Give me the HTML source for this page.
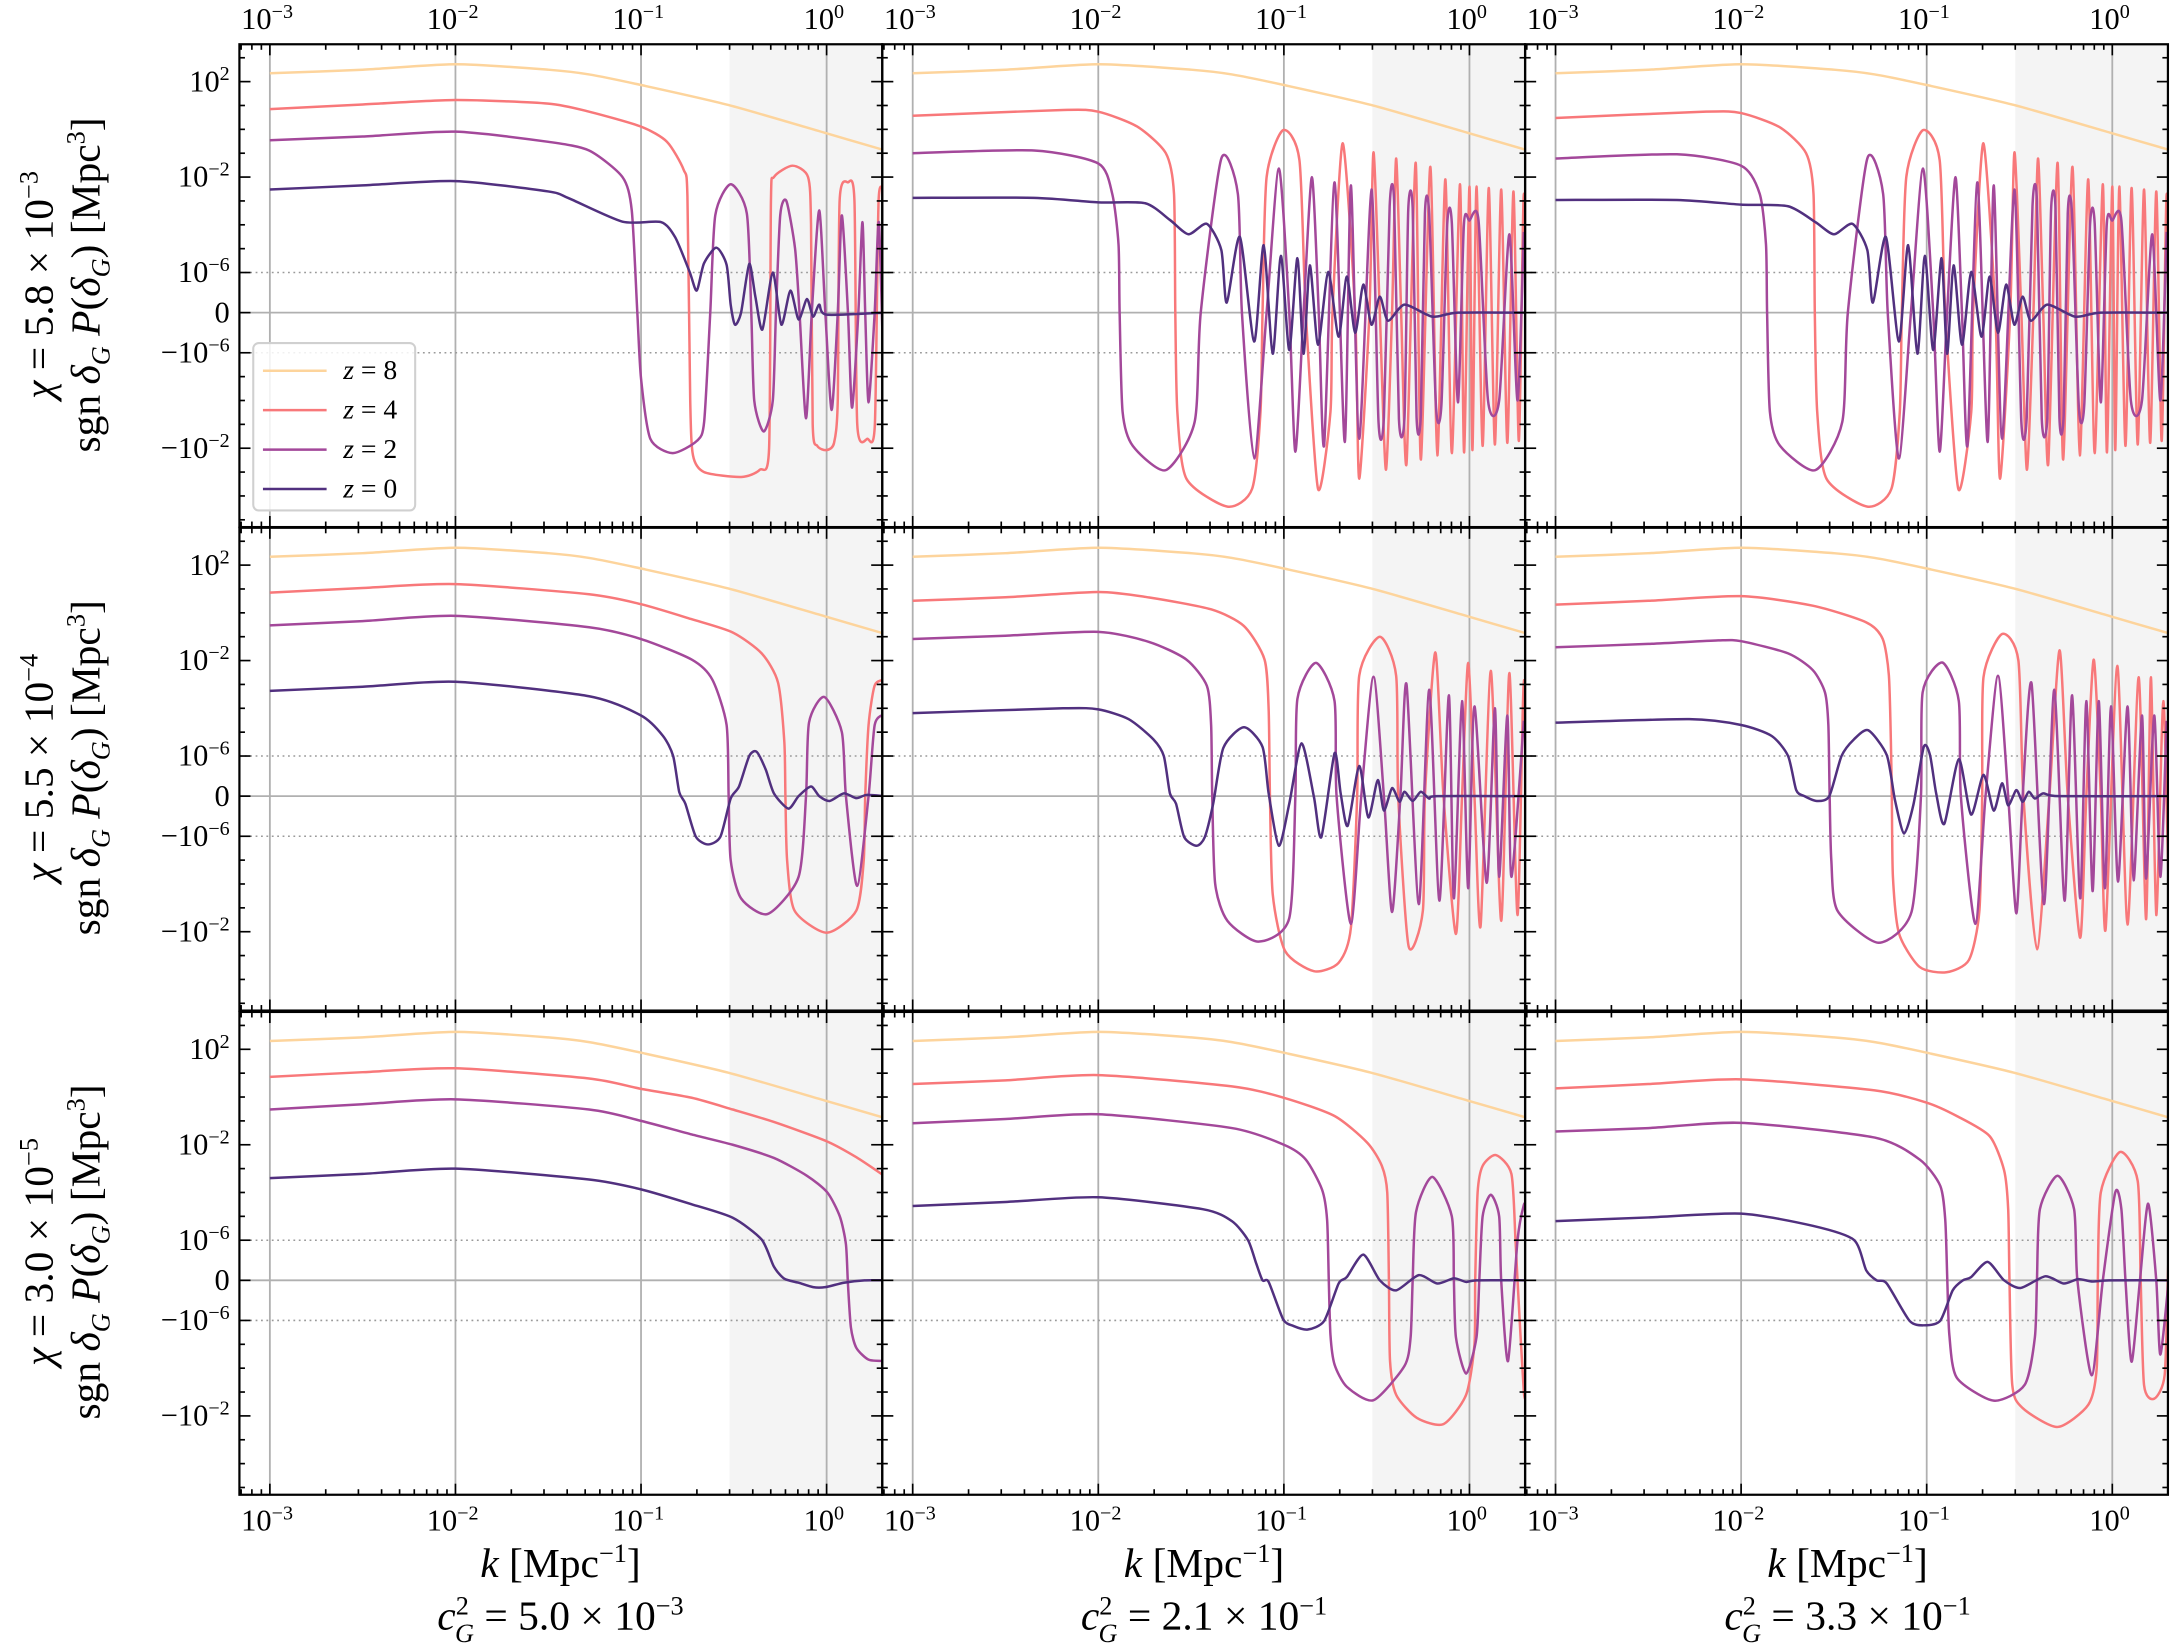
<!DOCTYPE html>
<html><head><meta charset="utf-8"><title>sgn P(delta_G) panels</title>
<style>
html,body{margin:0;padding:0;background:#fff;}
svg{display:block;}
text{font-family:"Liberation Serif","DejaVu Serif",serif;fill:#000;}
</style></head>
<body>
<svg id="fig" xmlns="http://www.w3.org/2000/svg" width="2170" height="1649" viewBox="0 0 1568 1192" preserveAspectRatio="none">
<rect x="0" y="0" width="1568" height="1192" fill="#fff"/>
<g id="panels"></g>
<g id="labels">
  <text x="405" y="1140" font-size="30" text-anchor="middle"><tspan font-style="italic">k</tspan> [Mpc<tspan dy="-11" font-size="19">−1</tspan><tspan dy="11">]</tspan></text>
  <text x="870" y="1140" font-size="30" text-anchor="middle"><tspan font-style="italic">k</tspan> [Mpc<tspan dy="-11" font-size="19">−1</tspan><tspan dy="11">]</tspan></text>
  <text x="1335" y="1140" font-size="30" text-anchor="middle"><tspan font-style="italic">k</tspan> [Mpc<tspan dy="-11" font-size="19">−1</tspan><tspan dy="11">]</tspan></text>
  <text x="405" y="1178" font-size="30" text-anchor="middle"><tspan font-style="italic">c</tspan><tspan dy="-11" font-size="19">2</tspan><tspan dx="-10" dy="20" font-size="19" font-style="italic">G</tspan><tspan dy="-9"> = 5.0 × 10</tspan><tspan dy="-11" font-size="19">−3</tspan></text>
  <text x="870" y="1178" font-size="30" text-anchor="middle"><tspan font-style="italic">c</tspan><tspan dy="-11" font-size="19">2</tspan><tspan dx="-10" dy="20" font-size="19" font-style="italic">G</tspan><tspan dy="-9"> = 2.1 × 10</tspan><tspan dy="-11" font-size="19">−1</tspan></text>
  <text x="1335" y="1178" font-size="30" text-anchor="middle"><tspan font-style="italic">c</tspan><tspan dy="-11" font-size="19">2</tspan><tspan dx="-10" dy="20" font-size="19" font-style="italic">G</tspan><tspan dy="-9"> = 3.3 × 10</tspan><tspan dy="-11" font-size="19">−1</tspan></text>

  <text transform="translate(38,206) rotate(-90)" font-size="30" text-anchor="middle"><tspan font-style="italic">χ</tspan> = 5.8 × 10<tspan dy="-11" font-size="19">−3</tspan></text>
  <text transform="translate(72,206) rotate(-90)" font-size="30" text-anchor="middle">sgn <tspan font-style="italic">δ</tspan><tspan dy="7" font-size="19" font-style="italic">G</tspan><tspan dy="-7"> </tspan><tspan font-style="italic">P</tspan>(<tspan font-style="italic">δ</tspan><tspan dy="7" font-size="19" font-style="italic">G</tspan><tspan dy="-7">) [Mpc</tspan><tspan dy="-11" font-size="19">3</tspan><tspan dy="11">]</tspan></text>
  <text transform="translate(38,555) rotate(-90)" font-size="30" text-anchor="middle"><tspan font-style="italic">χ</tspan> = 5.5 × 10<tspan dy="-11" font-size="19">−4</tspan></text>
  <text transform="translate(72,555) rotate(-90)" font-size="30" text-anchor="middle">sgn <tspan font-style="italic">δ</tspan><tspan dy="7" font-size="19" font-style="italic">G</tspan><tspan dy="-7"> </tspan><tspan font-style="italic">P</tspan>(<tspan font-style="italic">δ</tspan><tspan dy="7" font-size="19" font-style="italic">G</tspan><tspan dy="-7">) [Mpc</tspan><tspan dy="-11" font-size="19">3</tspan><tspan dy="11">]</tspan></text>
  <text transform="translate(38,905) rotate(-90)" font-size="30" text-anchor="middle"><tspan font-style="italic">χ</tspan> = 3.0 × 10<tspan dy="-11" font-size="19">−5</tspan></text>
  <text transform="translate(72,905) rotate(-90)" font-size="30" text-anchor="middle">sgn <tspan font-style="italic">δ</tspan><tspan dy="7" font-size="19" font-style="italic">G</tspan><tspan dy="-7"> </tspan><tspan font-style="italic">P</tspan>(<tspan font-style="italic">δ</tspan><tspan dy="7" font-size="19" font-style="italic">G</tspan><tspan dy="-7">) [Mpc</tspan><tspan dy="-11" font-size="19">3</tspan><tspan dy="11">]</tspan></text>
</g>
</svg>
<script>
// ---------- data: [log10 k, sgn P] pairs ----------
const seriesNames = ["z = 8", "z = 4", "z = 2", "z = 0"];
const seriesColors = ["#fdd49c", "#f8787a", "#a3489a", "#51307f"];
const xTickLabels = ["−3", "−2", "−1", "0"];
const yTickValues = [1e2, 1e-2, 1e-6, 0, -1e-6, -1e-2];
const yTickLabels = ["10|2", "10|−2", "10|−6", "0", "−10|−6", "−10|−2"];
const shadeStartK = 0.3;

const z8 = [[-3,224],[-2.5,316],[-2,537],[-1.5,316],[-1.28,200],[-1,72],[-0.53,10.5],[0,0.68],[0.31,0.135]];

const r1c1_z4 = [[-3,7],[-2.5,11],[-2,17],[-1.5,12],[-1.28,5.5],[-1,1.3],[-0.86,0.3],[-0.77,0.02],[-0.75,1.6e-3],[-0.735,-1e-4],[-0.72,-0.02],[-0.66,-0.1],[-0.46,-0.16],[-0.36,-0.08],[-0.31,-0.01],[-0.30,1e-3],[-0.284,0.01],[-0.184,0.03],[-0.1,0.01],[-0.084,1e-4],[-0.075,-1e-3],[-0.05,-8e-3],[0,-0.012],[0.04,-6e-3],[0.06,-1e-4],[0.07,1e-3],[0.115,6e-3],[0.15,1e-3],[0.165,-1e-3],[0.22,-4e-3],[0.26,-1e-3],[0.28,1e-3],[0.31,2e-3]];
const r1c1_z2 = [[-3,0.35],[-2.5,0.5],[-2,0.8],[-1.5,0.3],[-1.28,0.13],[-1.1,0.01],[-1.05,4e-4],[-1.02,0],[-1.0,-1.2e-5],[-0.95,-4e-3],[-0.83,-0.016],[-0.7,-5e-3],[-0.66,-8e-4],[-0.627,0],[-0.6,2.5e-4],[-0.517,5e-3],[-0.43,3e-4],[-0.406,0],[-0.39,-1e-4],[-0.339,-2e-3],[-0.29,-1e-4],[-0.273,0],[-0.25,2.5e-4],[-0.217,1e-3],[-0.17,1e-5],[-0.146,0],[-0.111,-5.6e-4],[-0.08,0],[-0.04,4e-4],[-0.007,0],[0.027,-2.5e-4],[0.06,0],[0.082,2.5e-4],[0.115,0],[0.137,-2e-4],[0.171,0],[0.193,1.3e-4],[0.208,0],[0.226,-1.2e-4],[0.259,0],[0.282,1.2e-4],[0.31,-1e-4]];
const r1c1_z0 = [[-3,3e-3],[-2.5,4.5e-3],[-2,6.8e-3],[-1.5,2.5e-3],[-1.39,1.3e-3],[-1.1,1.35e-4],[-0.893,1.3e-4],[-0.816,3e-5],[-0.738,1.06e-6],[-0.70,5.5e-7],[-0.661,2.4e-6],[-0.594,1.1e-5],[-0.539,2.1e-6],[-0.517,2e-7],[-0.494,-3e-7],[-0.461,0],[-0.417,2.3e-6],[-0.384,4e-7],[-0.346,-4.2e-7],[-0.29,1e-6],[-0.244,-3e-7],[-0.195,5.5e-7],[-0.151,-1.7e-7],[-0.106,3.4e-7],[-0.073,-1e-7],[-0.04,2e-7],[0,-5e-8],[0.31,0]];

const r1c2_z4 = [[-3,3.7],[-2.19,6.5],[-2,5.5],[-1.79,1.3],[-1.636,0.1],[-1.592,2e-3],[-1.585,0],[-1.574,-3e-4],[-1.525,-0.19],[-1.304,-2.8],[-1.171,-0.5],[-1.126,-3e-4],[-1.115,0],[-1.093,0.01],[-1.004,0.93],[-0.916,0.05],[-0.882,0],[-0.816,-0.5],[-0.749,-3e-4],[-0.738,0],[-0.683,0.26],[-0.616,0],[-0.594,-0.19],[-0.539,0],[-0.517,0.11],[-0.483,0],[-0.45,-0.08],[-0.417,0],[-0.395,0.06],[-0.368,0],[-0.339,-0.044],[-0.29,0.04],[-0.262,-0.03],[-0.211,0.027],[-0.173,-0.02],[-0.13,8e-3],[-0.095,-0.016],[-0.051,5e-3],[-0.029,-0.015],[0.0,4e-3],[0.016,-0.012],[0.038,4e-3],[0.071,-8e-3],[0.104,3.5e-3],[0.137,-7e-3],[0.171,3e-3],[0.204,-6e-3],[0.237,2.5e-3],[0.266,-5e-3],[0.293,2e-3],[0.31,-4e-3]];
const r1c2_z2 = [[-3,0.1],[-2.346,0.13],[-2,0.037],[-1.925,2e-3],[-1.891,1.5e-5],[-1.885,0],[-1.869,-3e-4],[-1.814,-8e-3],[-1.636,-0.083],[-1.481,-8e-4],[-1.448,0],[-1.337,0.06],[-1.248,2e-3],[-1.226,0],[-1.16,-0.027],[-1.093,0],[-1.027,0.023],[-0.971,0],[-0.938,-0.014],[-0.894,0],[-0.849,0.01],[-0.812,0],[-0.783,-7.4e-3],[-0.727,6e-3],[-0.672,-5.5e-3],[-0.639,4.5e-3],[-0.594,-4e-3],[-0.528,3e-3],[-0.49,-8e-4],[-0.461,-5e-4],[-0.43,6e-4],[-0.406,1e-3],[-0.38,-6e-4],[-0.35,-5e-4],[-0.33,4e-4],[-0.306,5e-4],[-0.285,-5e-4],[-0.262,-4e-4],[-0.24,3e-4],[-0.217,3e-4],[-0.18,-2e-4],[-0.151,-1.5e-4],[-0.12,1e-4],[-0.095,1.2e-4],[-0.062,-1.2e-4],[-0.03,1e-4],[0.0,1.5e-4],[0.049,1.5e-4],[0.1,-1e-4],[0.16,-1e-4],[0.215,4e-5],[0.259,-1e-4],[0.293,5e-5]];
const r1c2_z0 = [[-3,1.35e-3],[-2.346,1.35e-3],[-2,8.7e-4],[-1.747,8e-4],[-1.614,1.6e-4],[-1.514,4e-5],[-1.415,1.1e-4],[-1.337,8.7e-6],[-1.308,2.5e-7],[-1.237,3.1e-5],[-1.16,-7.2e-7],[-1.109,1.4e-5],[-1.06,-1.1e-6],[-1.016,5e-6],[-0.971,-9.3e-7],[-0.927,4e-6],[-0.894,-1.1e-6],[-0.86,2e-6],[-0.816,-8e-7],[-0.761,1.06e-6],[-0.705,-6e-7],[-0.661,9e-7],[-0.616,-5e-7],[-0.572,7e-7],[-0.528,-3e-7],[-0.483,4e-7],[-0.439,-2e-7],[-0.35,2e-7],[-0.2,-1e-7],[-0.062,0],[0.31,0]];

const r1c3_z4 = [[-3,3],[-2.19,5.5],[-2,4.8],[-1.79,1.2],[-1.65,0.1],[-1.61,2e-3],[-1.603,0],[-1.59,-3e-4],[-1.54,-0.19],[-1.32,-2.8],[-1.19,-0.5],[-1.145,-3e-4],[-1.134,0],[-1.11,0.01],[-1.02,0.93],[-0.93,0.05],[-0.9,0],[-0.83,-0.5],[-0.76,-3e-4],[-0.75,0],[-0.695,0.26],[-0.63,0],[-0.605,-0.19],[-0.55,0],[-0.527,0.11],[-0.49,0],[-0.46,-0.08],[-0.425,0],[-0.4,0.06],[-0.372,0],[-0.345,-0.044],[-0.295,0.04],[-0.265,-0.03],[-0.215,0.027],[-0.175,-0.02],[-0.13,8e-3],[-0.095,-0.016],[-0.051,5e-3],[-0.029,-0.015],[0.0,4e-3],[0.016,-0.012],[0.038,4e-3],[0.071,-8e-3],[0.104,3.5e-3],[0.137,-7e-3],[0.171,3e-3],[0.204,-6e-3],[0.237,2.5e-3],[0.266,-5e-3],[0.293,2e-3],[0.31,-4e-3]];
const r1c3_z2 = [[-3,0.06],[-2.346,0.09],[-2,0.03],[-1.9,2e-3],[-1.866,1.5e-5],[-1.86,0],[-1.845,-3e-4],[-1.79,-8e-3],[-1.6,-0.083],[-1.455,-8e-4],[-1.425,0],[-1.32,0.06],[-1.235,2e-3],[-1.21,0],[-1.15,-0.027],[-1.085,0],[-1.02,0.023],[-0.965,0],[-0.93,-0.014],[-0.89,0],[-0.845,0.01],[-0.81,0],[-0.78,-7.4e-3],[-0.727,6e-3],[-0.672,-5.5e-3],[-0.639,4.5e-3],[-0.594,-4e-3],[-0.528,3e-3],[-0.49,-8e-4],[-0.461,-5e-4],[-0.43,6e-4],[-0.406,1e-3],[-0.38,-6e-4],[-0.35,-5e-4],[-0.33,4e-4],[-0.306,5e-4],[-0.285,-5e-4],[-0.262,-4e-4],[-0.24,3e-4],[-0.217,3e-4],[-0.18,-2e-4],[-0.151,-1.5e-4],[-0.12,1e-4],[-0.095,1.2e-4],[-0.062,-1.2e-4],[-0.03,1e-4],[0.0,1.5e-4],[0.049,1.5e-4],[0.1,-1e-4],[0.16,-1e-4],[0.215,4e-5],[0.259,-1e-4],[0.293,5e-5]];
const r1c3_z0 = [[-3,1.1e-3],[-2.346,1.1e-3],[-2,7e-4],[-1.747,6e-4],[-1.6,1.3e-4],[-1.5,4e-5],[-1.4,1.1e-4],[-1.32,8.7e-6],[-1.29,2.5e-7],[-1.22,3.1e-5],[-1.15,-7.2e-7],[-1.1,1.4e-5],[-1.05,-1.1e-6],[-1.01,5e-6],[-0.965,-9.3e-7],[-0.92,4e-6],[-0.89,-1.1e-6],[-0.855,2e-6],[-0.81,-8e-7],[-0.76,1.06e-6],[-0.705,-6e-7],[-0.661,9e-7],[-0.616,-5e-7],[-0.572,7e-7],[-0.528,-3e-7],[-0.483,4e-7],[-0.439,-2e-7],[-0.35,2e-7],[-0.2,-1e-7],[-0.062,0],[0.31,0]];

const r2c1_z4 = [[-3,7],[-2.5,11],[-2,16],[-1.28,6],[-1,2.3],[-0.727,0.54],[-0.506,0.15],[-0.35,0.02],[-0.262,1.2e-3],[-0.228,4e-6],[-0.222,0],[-0.213,-1e-5],[-0.173,-1.3e-3],[0,-0.011],[0.16,-1.3e-3],[0.2,-1e-5],[0.208,0],[0.226,2e-5],[0.259,9e-4],[0.31,1.6e-3]];
const r2c1_z2 = [[-3,0.3],[-2.5,0.45],[-2,0.75],[-1.28,0.25],[-1,0.08],[-0.727,0.011],[-0.616,1.6e-3],[-0.539,2e-5],[-0.528,0],[-0.517,-1e-5],[-0.461,-4e-4],[-0.317,-1.8e-3],[-0.151,-5e-5],[-0.111,0],[-0.095,2.5e-5],[-0.013,3e-4],[0.082,1e-5],[0.104,0],[0.164,-1.2e-4],[0.226,0],[0.259,2e-5],[0.31,5.6e-5]];
const r2c1_z0 = [[-3,5.4e-4],[-2.5,8e-4],[-2,1.3e-3],[-1.28,3.2e-4],[-1,5e-5],[-0.882,7e-6],[-0.827,1e-6],[-0.794,1e-7],[-0.761,-1.9e-7],[-0.705,-1.03e-6],[-0.639,-2.2e-6],[-0.572,-1.03e-6],[-0.517,-6e-8],[-0.472,2.4e-7],[-0.417,1e-6],[-0.377,1.5e-6],[-0.328,6.6e-7],[-0.284,7e-8],[-0.206,-3.1e-7],[-0.151,0],[-0.084,2.4e-7],[-0.04,0],[0.016,-1.2e-7],[0.093,7e-8],[0.16,-5e-8],[0.215,3e-8],[0.31,0]];

const r2c2_z4 = [[-3,3.2],[-2.5,4.5],[-2,7.5],[-1.725,4.4],[-1.392,1.4],[-1.215,0.28],[-1.104,0.011],[-1.082,9e-5],[-1.075,0],[-1.06,-2.7e-4],[-0.993,-0.065],[-0.838,-0.45],[-0.705,-0.2],[-0.639,-7e-3],[-0.605,0],[-0.594,2.3e-3],[-0.483,0.1],[-0.395,2.3e-3],[-0.384,0],[-0.328,-0.04],[-0.251,-1.3e-3],[-0.24,0],[-0.184,0.022],[-0.14,0],[-0.073,-0.0125],[-0.04,0],[-0.007,8e-3],[0.027,0],[0.06,-5.8e-3],[0.115,3.7e-3],[0.171,-3.5e-3],[0.215,3e-3],[0.259,-2e-3],[0.293,1.5e-3],[0.31,-1e-3]];
const r2c2_z2 = [[-3,0.08],[-2.5,0.11],[-2,0.16],[-1.725,0.06],[-1.525,0.011],[-1.415,8.7e-4],[-1.392,2e-5],[-1.386,0],[-1.37,-1e-4],[-1.304,-3.5e-3],[-1.137,-0.026],[-0.971,-2.7e-3],[-0.938,0],[-0.927,2.5e-4],[-0.827,8e-3],[-0.727,2e-4],[-0.716,0],[-0.639,-4.7e-3],[-0.583,0],[-0.517,2.1e-3],[-0.461,0],[-0.417,-1.5e-3],[-0.372,0],[-0.339,1e-3],[-0.273,-7e-4],[-0.217,6e-4],[-0.162,-5e-4],[-0.111,3.5e-4],[-0.084,-4e-4],[-0.04,2e-4],[-0.007,-1.5e-4],[0.027,1.2e-4],[0.093,-9e-5],[0.137,1e-4],[0.16,-5e-5],[0.204,5e-5],[0.226,-5e-5],[0.293,3e-5]];
const r2c2_z0 = [[-3,6.3e-5],[-2.19,1e-4],[-2,9e-5],[-1.836,3.5e-5],[-1.703,5e-6],[-1.647,1e-6],[-1.614,7e-8],[-1.581,-1.9e-7],[-1.537,-1.08e-6],[-1.47,-2.5e-6],[-1.426,-1.08e-6],[-1.381,-1.9e-7],[-1.326,2.2e-6],[-1.215,1.6e-5],[-1.115,2.4e-6],[-1.082,7e-8],[-1.027,-2.5e-6],[-0.971,-1.9e-7],[-0.905,3.4e-6],[-0.838,-2e-8],[-0.798,-1.08e-6],[-0.727,1.3e-6],[-0.694,7e-8],[-0.656,-7.4e-7],[-0.594,7.5e-7],[-0.545,-5.3e-7],[-0.494,4e-7],[-0.461,-3.6e-7],[-0.417,2e-7],[-0.377,-1.4e-7],[-0.35,1.1e-7],[-0.306,-1.2e-7],[-0.262,1.1e-7],[-0.217,-6e-8],[-0.173,0],[0.31,0]];

const r2c3_z4 = [[-3,2.2],[-2.5,3.2],[-2,5],[-1.614,2],[-1.326,0.4],[-1.237,0.08],[-1.204,2.5e-3],[-1.193,4e-6],[-1.188,0],[-1.182,-5e-5],[-1.149,-0.012],[-1.038,-0.3],[-0.894,-0.5],[-0.772,-0.15],[-0.716,-1.3e-3],[-0.701,0],[-0.694,2e-3],[-0.594,0.13],[-0.506,0.01],[-0.479,0],[-0.406,-0.055],[-0.339,0],[-0.284,0.027],[-0.24,0],[-0.173,-0.018],[-0.14,0],[-0.1,0.011],[-0.062,0],[-0.036,-8e-3],[0.027,6e-3],[0.082,-5e-3],[0.142,2e-3],[0.182,-3e-3],[0.208,2e-3],[0.237,-2e-3],[0.275,2e-4],[0.306,-1e-3]];
const r2c3_z2 = [[-3,0.036],[-2.5,0.05],[-2.124,0.07],[-2,0.065],[-1.747,0.02],[-1.614,4e-3],[-1.548,4.6e-4],[-1.53,2e-5],[-1.523,0],[-1.514,-1e-5],[-1.481,-1.3e-3],[-1.259,-0.029],[-1.082,-1.5e-3],[-1.031,0],[-1.022,4.6e-4],[-0.916,8.3e-3],[-0.827,2e-4],[-0.816,0],[-0.738,-4.7e-3],[-0.683,0],[-0.616,2.3e-3],[-0.561,0],[-0.517,-1.7e-3],[-0.483,0],[-0.435,1.1e-3],[-0.368,-7e-4],[-0.313,6e-4],[-0.257,-5e-4],[-0.217,3.5e-4],[-0.173,-4e-4],[-0.14,2e-4],[-0.106,-2e-4],[-0.073,2e-4],[-0.04,-1.5e-4],[-0.007,1.2e-4],[0.031,-8e-5],[0.082,1.2e-4],[0.115,-7e-5],[0.16,5e-5],[0.182,-6e-5],[0.226,5e-5],[0.259,-5e-5],[0.293,3e-5]];
const r2c3_z0 = [[-3,2.5e-5],[-2.279,3.5e-5],[-2,2e-5],[-1.836,7e-6],[-1.747,1e-6],[-1.703,1.5e-7],[-1.659,0],[-1.592,-1.2e-7],[-1.525,0],[-1.459,1e-6],[-1.392,5e-6],[-1.315,1.2e-5],[-1.215,1.08e-6],[-1.171,-1e-7],[-1.122,-9.3e-7],[-1.071,-2e-7],[-1.016,2.4e-6],[-0.982,1.08e-6],[-0.949,7e-8],[-0.905,-6.9e-7],[-0.827,9.2e-7],[-0.761,-4.6e-7],[-0.694,5.3e-7],[-0.639,-3.6e-7],[-0.594,3.2e-7],[-0.561,-2.3e-7],[-0.517,1.5e-7],[-0.483,-1.4e-7],[-0.45,1.1e-7],[-0.417,-6e-8],[-0.372,7e-8],[-0.284,0],[0.31,0]];

const r3c1_z4 = [[-3,7],[-2.5,11],[-2,16],[-1.28,6],[-1,2.2],[-0.727,0.93],[-0.506,0.3],[-0.284,0.09],[0,0.014],[0.16,3e-3],[0.31,5e-4]];
const r3c1_z2 = [[-3,0.3],[-2.5,0.5],[-2,0.8],[-1.28,0.3],[-1,0.1],[-0.727,0.027],[-0.506,0.01],[-0.284,2.8e-3],[-0.106,5e-4],[0.004,1e-4],[0.071,1e-5],[0.104,9e-7],[0.115,-1e-7],[0.131,-2e-6],[0.16,-1.4e-5],[0.226,-4.4e-5],[0.31,-5e-5]];
const r3c1_z0 = [[-3,4e-4],[-2.5,6e-4],[-2,1e-3],[-1.28,3.5e-4],[-1,1.35e-4],[-0.727,3.2e-5],[-0.506,8.7e-6],[-0.35,1.06e-6],[-0.284,3.4e-7],[-0.228,4e-8],[-0.151,-6e-8],[-0.073,-1.7e-7],[-0.007,-1.7e-7],[0.093,-6e-8],[0.204,0],[0.31,0]];

const r3c2_z4 = [[-3,3.5],[-2.5,5],[-2,8.3],[-1.28,2.8],[-1,0.93],[-0.727,0.16],[-0.55,0.012],[-0.472,1.3e-3],[-0.443,1e-4],[-0.434,0],[-0.428,-5e-5],[-0.395,-1.3e-3],[-0.284,-0.012],[-0.14,-0.022],[-0.018,-1.3e-3],[0.027,-1e-5],[0.031,0],[0.044,1e-4],[0.071,1.3e-3],[0.142,3.7e-3],[0.226,6e-4],[0.248,1e-6],[0.259,0],[0.293,-1e-3],[0.31,-1.5e-3]];
const r3c2_z2 = [[-3,0.08],[-2.5,0.12],[-2,0.19],[-1.28,0.05],[-1,0.01],[-0.882,2.4e-3],[-0.794,1.3e-4],[-0.767,7e-6],[-0.758,0],[-0.749,-4e-6],[-0.727,-7e-5],[-0.661,-6e-4],[-0.517,-2.2e-3],[-0.35,-8e-5],[-0.317,-5e-6],[-0.306,0],[-0.288,1.5e-5],[-0.2,4.5e-4],[-0.095,1e-5],[-0.084,0],[-0.073,-5e-6],[-0.018,-1.7e-4],[0.038,-5e-6],[0.053,0],[0.071,1e-5],[0.115,8e-5],[0.16,1e-5],[0.171,0],[0.208,-5e-5],[0.259,1e-6],[0.293,3e-5],[0.31,3e-5]];
const r3c2_z0 = [[-3,2.7e-5],[-2.5,4e-5],[-2,6.3e-5],[-1.437,2e-5],[-1.28,6.3e-6],[-1.193,1e-6],[-1.149,4.2e-7],[-1.115,0],[-1.082,-4e-8],[-1.004,-9.7e-7],[-0.949,-1.7e-6],[-0.871,-2.4e-6],[-0.783,-1.05e-6],[-0.705,-8e-8],[-0.661,8e-8],[-0.572,6.4e-7],[-0.483,0],[-0.395,-2.5e-7],[-0.273,1.3e-7],[-0.173,-8e-8],[-0.084,5e-8],[-0.018,-4e-8],[0.038,0],[0.31,0]];

const r3c3_z4 = [[-3,2.3],[-2.5,3.5],[-2,5.5],[-1.28,1.9],[-1,0.58],[-0.838,0.16],[-0.661,0.023],[-0.583,8.5e-4],[-0.561,2e-5],[-0.554,0],[-0.539,-5e-4],[-0.483,-4.7e-3],[-0.295,-0.029],[-0.129,-3.4e-3],[-0.084,-1e-4],[-0.078,0],[-0.062,1e-4],[0.042,5e-3],[0.137,3e-4],[0.153,0],[0.171,-5e-4],[0.226,-1.9e-3],[0.282,-2e-4],[0.299,0],[0.31,2e-5]];
const r3c3_z2 = [[-3,0.036],[-2.5,0.05],[-2,0.083],[-1.28,0.02],[-1.038,2.4e-3],[-0.927,1.9e-4],[-0.9,7e-6],[-0.889,0],[-0.878,-4e-6],[-0.838,-2.5e-4],[-0.639,-2.3e-3],[-0.472,-5e-4],[-0.417,-5e-6],[-0.406,0],[-0.39,2e-5],[-0.295,5e-4],[-0.206,2e-5],[-0.188,0],[-0.111,-2e-4],[-0.051,0],[0.016,1e-4],[0.049,2e-5],[0.071,0],[0.104,-5.4e-5],[0.149,0],[0.193,3.4e-5],[0.237,0],[0.259,-2.7e-5],[0.304,0]];
const r3c3_z0 = [[-3,6.3e-6],[-2.5,9e-6],[-2,1.3e-5],[-1.614,4e-6],[-1.392,1.03e-6],[-1.326,2.5e-7],[-1.27,0],[-1.215,-8e-8],[-1.093,-1.02e-6],[-1.016,-1.6e-6],[-0.927,-1.02e-6],[-0.86,-2.5e-7],[-0.805,0],[-0.761,8e-8],[-0.672,4.6e-7],[-0.583,0],[-0.494,-1.9e-7],[-0.361,1e-7],[-0.262,-8e-8],[-0.184,3e-8],[-0.106,-3e-8],[-0.018,0],[0.31,0]];

const panelSeries = [
  [[z8, r1c1_z4, r1c1_z2, r1c1_z0], [z8, r1c2_z4, r1c2_z2, r1c2_z0], [z8, r1c3_z4, r1c3_z2, r1c3_z0]],
  [[z8, r2c1_z4, r2c1_z2, r2c1_z0], [z8, r2c2_z4, r2c2_z2, r2c2_z0], [z8, r2c3_z4, r2c3_z2, r2c3_z0]],
  [[z8, r3c1_z4, r3c1_z2, r3c1_z0], [z8, r3c2_z4, r3c2_z2, r3c2_z0], [z8, r3c3_z4, r3c3_z2, r3c3_z0]]
];

// ---------- layout ----------
const NS = "http://www.w3.org/2000/svg";
const COLX = [173, 637.5, 1102];
const ROWY = [32, 381.5, 731.5];
const PW = 464.5, PH = 349;
const DEC = 134.1, XOFF = 22;
const ZERO = 194, LIN = 29, YDEC = 17.25;

function xScale(lk, c) { return COLX[c] + XOFF + (lk + 3) * DEC; }
function yScale(p, r) {
  let s;
  if (Math.abs(p) <= 1e-6) s = p / 1e-6 * LIN;
  else s = Math.sign(p) * (LIN + (Math.log10(Math.abs(p)) + 6) * YDEC);
  return ROWY[r] + ZERO - s;
}
function mk(tag, attrs, parent) {
  const e = document.createElementNS(NS, tag);
  for (const k in attrs) e.setAttribute(k, attrs[k]);
  parent.appendChild(e);
  return e;
}
function smoothPath(pts) {
  // Catmull-Rom (reduced tension) in screen space
  const t = 0.12;
  let d = "M" + pts[0][0].toFixed(2) + "," + pts[0][1].toFixed(2);
  for (let i = 0; i < pts.length - 1; i++) {
    const p0 = pts[Math.max(0, i - 1)], p1 = pts[i], p2 = pts[i + 1], p3 = pts[Math.min(pts.length - 1, i + 2)];
    const c1x = p1[0] + (p2[0] - p0[0]) * t, c1y = p1[1] + (p2[1] - p0[1]) * t;
    const c2x = p2[0] - (p3[0] - p1[0]) * t, c2y = p2[1] - (p3[1] - p1[1]) * t;
    d += "C" + c1x.toFixed(2) + "," + c1y.toFixed(2) + " " + c2x.toFixed(2) + "," + c2y.toFixed(2) + " " + p2[0].toFixed(2) + "," + p2[1].toFixed(2);
  }
  return d;
}
function powLabel(parent, x, y, str, anchor, size) {
  const parts = str.split("|");
  const t = mk("text", {x: x, y: y, "font-size": size, "text-anchor": anchor}, parent);
  t.appendChild(document.createTextNode(parts[0]));
  if (parts.length > 1) {
    const sp = mk("tspan", {dy: -8, "font-size": size * 0.66}, t);
    sp.textContent = parts[1];
  }
  return t;
}

const root = document.getElementById("panels");
const defs = mk("defs", {}, root);

for (let r = 0; r < 3; r++) {
  for (let c = 0; c < 3; c++) {
    const x0 = COLX[c], y0 = ROWY[r];
    const g = mk("g", {}, root);
    
    
    const cp = mk("clipPath", {id: "clip" + r + c}, defs);
    mk("rect", {x: x0, y: y0, width: PW, height: PH}, cp);

    const sx = xScale(Math.log10(shadeStartK), c);
    const shade = mk("rect", {x: sx, y: y0, width: x0 + PW - sx, height: PH, fill: "#f4f4f4"}, g);
    
    

    for (let d = -3; d <= 0; d++) {
      const gx = xScale(d, c);
      const gl = mk("line", {x1: gx, x2: gx, y1: y0, y2: y0 + PH, stroke: "#b0b0b0", "stroke-width": 1.3}, g);
      
      
    }
    const zl = mk("line", {x1: x0, x2: x0 + PW, y1: yScale(0, r), y2: yScale(0, r), stroke: "#b0b0b0", "stroke-width": 1.3}, g);
    
    
    [1e-6, -1e-6].forEach(v => {
      const dl = mk("line", {x1: x0, x2: x0 + PW, y1: yScale(v, r), y2: yScale(v, r), stroke: "#9a9a9a", "stroke-width": 1.1, "stroke-dasharray": "1.3,2.6"}, g);
      
      
    });

    const cg = mk("g", {"clip-path": "url(#clip" + r + c + ")"}, g);
    
    
    panelSeries[r][c].forEach((ser, si) => {
      const pts = ser.map(pt => [xScale(pt[0], c), yScale(pt[1], r)]);
      const path = mk("path", {d: smoothPath(pts), fill: "none", stroke: seriesColors[si], "stroke-width": 1.8, "stroke-linejoin": "round"}, cg);
      
      
    });

    const fr = mk("rect", {x: x0, y: y0, width: PW, height: PH, fill: "none", stroke: "#000", "stroke-width": 1.6}, g);
    
    

    const tg = mk("g", {stroke: "#000", "stroke-width": 1.2}, g);
    
    
    for (let d = -4; d <= 0; d++) {
      for (let m = 1; m <= 9; m++) {
        const lk = d + Math.log10(m);
        const tx = xScale(lk, c);
        if (tx < x0 + 0.5 || tx > x0 + PW - 0.5) continue;
        const len = m === 1 ? 8 : 4;
        mk("line", {x1: tx, x2: tx, y1: y0 + PH, y2: y0 + PH - len}, tg);
        mk("line", {x1: tx, x2: tx, y1: y0, y2: y0 + len}, tg);
      }
    }
    const yt = [];
    for (let e = 3; e >= -6; e--) yt.push(Math.pow(10, e));
    yt.push(0);
    for (let e = -6; e <= 3; e++) yt.push(-Math.pow(10, e));
    yt.forEach(v => {
      const ty = yScale(v, r);
      if (ty < y0 + 0.5 || ty > y0 + PH - 0.5) return;
      const major = yTickValues.some(w => Math.abs(w - v) <= Math.abs(v) * 1e-9);
      const len = major ? 8 : 4;
      mk("line", {x1: x0, x2: x0 + len, y1: ty, y2: ty}, tg);
      mk("line", {x1: x0 + PW, x2: x0 + PW - len, y1: ty, y2: ty}, tg);
    });

    if (c === 0) {
      yTickValues.forEach((v, i) => {
        const t = powLabel(g, x0 - 7, yScale(v, r) + 7, yTickLabels[i], "end", 22);
        
        
      });
    }
    if (r === 0 || r === 2) {
      for (let d = -3; d <= 0; d++) {
        const yy = r === 0 ? 21 : y0 + PH + 26;
        const t = powLabel(g, xScale(d, c) - 2, yy, "10|" + xTickLabels[d + 3], "middle", 22);
        
        
      }
    }
  }
}

const lg = mk("g", {}, root);


mk("rect", {x: 183, y: 248, width: 117, height: 121, rx: 4, fill: "#fff", "fill-opacity": 0.85, stroke: "#d0d0d0", "stroke-width": 1.5}, lg);
seriesNames.forEach((nm, i) => {
  const ly = 268 + i * 28.5;
  const e = mk("g", {}, lg);
  
  
  mk("line", {x1: 190, x2: 236, y1: ly, y2: ly, stroke: seriesColors[i], "stroke-width": 1.8}, e);
  const t = mk("text", {x: 248, y: ly + 6, "font-size": 20}, e);
  const zi = mk("tspan", {"font-style": "italic"}, t);
  zi.textContent = "z";
  t.appendChild(document.createTextNode(" = " + nm.split("= ")[1]));
});
</script>
</body></html>
